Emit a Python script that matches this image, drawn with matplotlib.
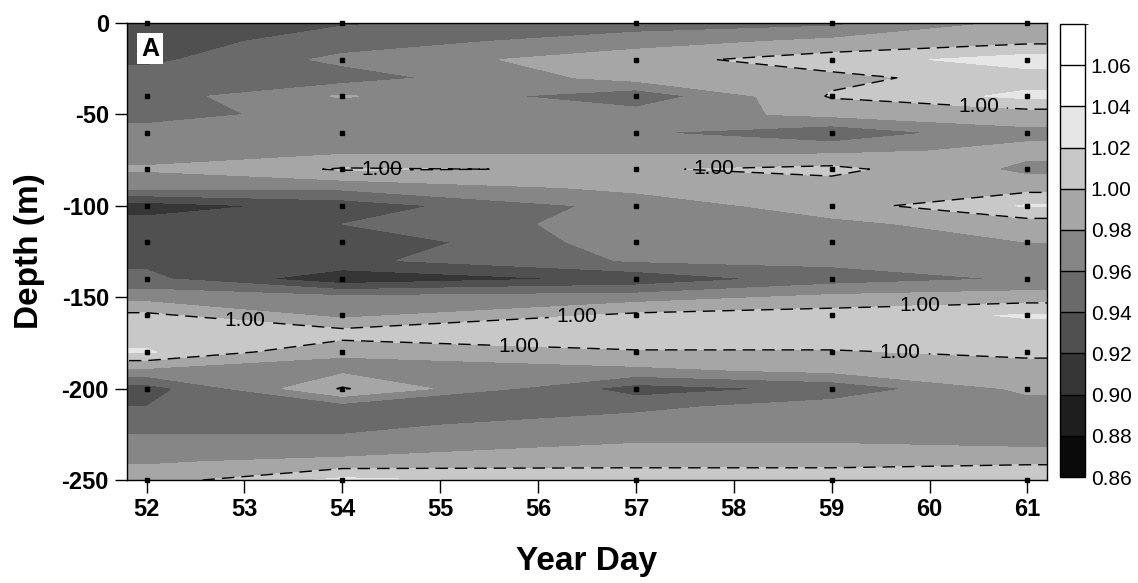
#!/usr/bin/env python3
"""Contour section: ratio vs year day and depth, grey bands with 1.00 dashed isoline."""

import matplotlib
matplotlib.use("Agg")
import matplotlib.pyplot as plt
import numpy as np
from matplotlib.colors import BoundaryNorm, ListedColormap

plt.rcParams["font.family"] = ["Liberation Sans", "DejaVu Sans"]
plt.rcParams["axes.unicode_minus"] = False
plt.rcParams["lines.dashed_pattern"] = [9.0, 5.0]

# station days (columns) and depths (rows, m)
days = [52, 54, 57, 59, 61]
depths = list(range(0, -260, -10))

day52 = [0.930, 0.930, 0.935, 0.950, 0.950, 0.955, 0.965, 0.972, 0.982, 0.965,
         0.910, 0.928, 0.930, 0.935, 0.945, 0.972, 1.005, 1.012, 1.022, 0.975,
         0.930, 0.940, 0.955, 0.965, 0.978, 0.990]
day54 = [0.938, 0.950, 0.965, 0.950, 0.982, 0.965, 0.970, 0.975, 1.002, 0.965,
         0.928, 0.940, 0.921, 0.935, 0.905, 0.965, 0.975, 1.010, 0.982, 0.975,
         1.002, 0.950, 0.955, 0.965, 0.985, 1.025]
day57 = [0.950, 0.970, 0.993, 0.988, 0.945, 0.970, 0.962, 0.975, 0.998, 0.985,
         0.968, 0.970, 0.972, 0.962, 0.925, 0.970, 1.005, 1.015, 0.998, 0.975,
         0.930, 0.955, 0.970, 0.980, 0.995, 1.010]
day59 = [0.955, 0.985, 1.010, 0.995, 1.002, 0.985, 0.945, 0.975, 1.006, 0.990,
         0.990, 0.975, 0.980, 0.965, 0.950, 0.985, 1.010, 1.015, 0.998, 0.985,
         0.945, 0.970, 0.970, 0.980, 0.995, 1.010]
day61 = [0.985, 0.995, 1.030, 1.010, 1.025, 0.990, 0.975, 0.985, 0.975, 0.992,
         1.022, 0.990, 0.980, 0.970, 0.962, 0.990, 1.022, 1.010, 1.005, 0.990,
         0.985, 0.970, 0.965, 0.975, 0.998, 1.010]

# depths where samples were taken (black dots)
sample_depths = [0, -20, -40, -60, -80, -100, -120, -140, -160, -180, -200, -250]

levels = [0.86, 0.88, 0.90, 0.92, 0.94, 0.96, 0.98, 1.00, 1.02, 1.04, 1.06, 1.08]
tick_levels = levels[:-1]
band_greys = ["#0a0a0a", "#1e1e1e", "#363636", "#505050", "#6a6a6a", "#868686",
              "#a6a6a6", "#c8c8c8", "#e6e6e6", "#ffffff", "#ffffff"]

# where the "1.00" labels sit on the isoline
label_spots = [(54.4, -80), (57.8, -80), (60.5, -45), (53.0, -165),
               (56.4, -160), (55.8, -179), (59.9, -155), (59.7, -182)]


def main():
    z = np.column_stack([day52, day54, day57, day59, day61])
    # carry the end profiles out to the plot edges
    x = [51.8] + days + [61.2]
    z = np.pad(z, ((0, 0), (1, 1)), mode="edge")
    xx, yy = np.meshgrid(x, depths)

    cmap = ListedColormap(band_greys)
    norm = BoundaryNorm(levels, cmap.N)

    fig = plt.figure(figsize=(11.38, 5.83), dpi=100)
    ax = fig.add_axes([0.1116, 0.1767, 0.8084, 0.7838])

    cf = ax.contourf(xx, yy, z, levels=levels, cmap=cmap, norm=norm)
    cs = ax.contour(xx, yy, z, levels=[1.00], colors="k", linewidths=1.0,
                    linestyles="dashed")
    labels = ax.clabel(cs, fmt="%.2f", fontsize=15, inline=True, inline_spacing=8,
                       manual=label_spots)
    for t in labels:
        t.set_rotation(0)

    sx, sy = np.meshgrid(days, sample_depths)
    ax.plot(sx.ravel(), sy.ravel(), "s", color="k", markersize=2.6,
            linestyle="none", clip_on=False, zorder=5)

    ax.set_xlim(51.8, 61.2)
    ax.set_ylim(-250, 0)
    ax.set_xticks(range(52, 62))
    ax.set_yticks([0, -50, -100, -150, -200, -250])
    ax.tick_params(direction="out", length=9, width=1, labelsize=17, pad=4)
    for lab in ax.get_xticklabels() + ax.get_yticklabels():
        lab.set_fontweight("bold")
    for sp in ax.spines.values():
        sp.set_linewidth(1.0)

    ax.set_xlabel("Year Day", fontsize=24, fontweight="bold", labelpad=18)
    ax.set_ylabel("Depth (m)", fontsize=24, fontweight="bold", labelpad=12)

    ax.text(0.025, 0.944, "A", transform=ax.transAxes, ha="center", va="center",
            fontsize=18, fontweight="bold", zorder=6,
            bbox=dict(boxstyle="square,pad=0.15", facecolor="white", edgecolor="none"))

    cax = fig.add_axes([0.9315, 0.1818, 0.022, 0.777])
    cb = fig.colorbar(cf, cax=cax, ticks=tick_levels, drawedges=True)
    cb.ax.set_yticklabels([f"{v:.2f}" for v in tick_levels])
    cb.ax.tick_params(length=0, labelsize=15, pad=4)
    cb.outline.set_linewidth(1.0)
    cb.dividers.set_color("k")
    cb.dividers.set_linewidth(1.0)

    fig.savefig("out.png", dpi=100)


if __name__ == "__main__":
    main()
